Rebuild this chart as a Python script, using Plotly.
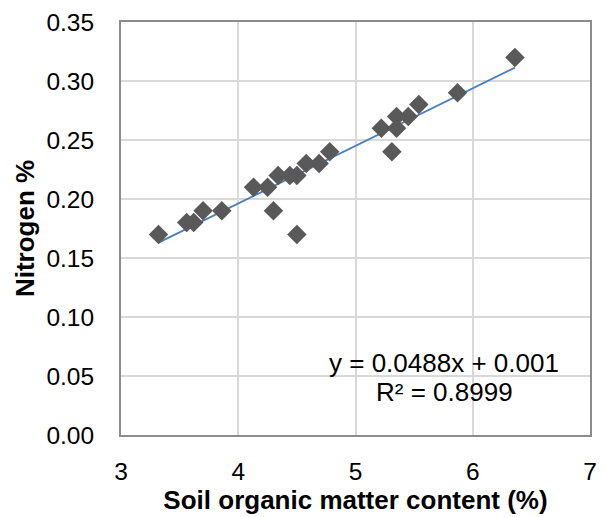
import plotly.graph_objects as go

# Data
soil_om = [3.32, 3.56, 3.62, 3.70, 3.86, 4.13, 4.25, 4.30, 4.34, 4.44, 4.50, 4.50,
           4.58, 4.69, 4.78, 5.22, 5.31, 5.35, 5.35, 5.45, 5.54, 5.87, 6.36]
nitrogen = [0.17, 0.18, 0.18, 0.19, 0.19, 0.21, 0.21, 0.19, 0.22, 0.22, 0.22, 0.17,
            0.23, 0.23, 0.24, 0.26, 0.24, 0.26, 0.27, 0.27, 0.28, 0.29, 0.32]

slope = 0.0488
intercept = 0.001
r2 = 0.8999

x_ticks = [3, 4, 5, 6, 7]
y_ticks = [0.00, 0.05, 0.10, 0.15, 0.20, 0.25, 0.30, 0.35]

x_line = [min(soil_om), max(soil_om)]
y_line = [slope * v + intercept for v in x_line]

font_family = "Liberation Sans, Arial, sans-serif"

fig = go.Figure()
fig.add_trace(go.Scatter(
    x=x_line, y=y_line, mode="lines",
    line=dict(color="#4a7ebb", width=1.8),
    showlegend=False, hoverinfo="skip"))
fig.add_trace(go.Scatter(
    x=soil_om, y=nitrogen, mode="markers",
    marker=dict(symbol="diamond", size=15, color="#595959"),
    showlegend=False))

fig.add_annotation(
    x=5.755, y=0.061, xref="x", yref="y",
    text=f"y = {slope}x + {intercept}",
    showarrow=False, xanchor="center", yanchor="middle",
    font=dict(family=font_family, size=26, color="#000000"))
fig.add_annotation(
    x=5.755, y=0.0365, xref="x", yref="y",
    text=f"R² = {r2}",
    showarrow=False, xanchor="center", yanchor="middle",
    font=dict(family=font_family, size=26, color="#000000"))

fig.update_layout(
    width=606, height=517,
    margin=dict(l=113, r=24, t=14, b=90, autoexpand=False),
    paper_bgcolor="white", plot_bgcolor="white",
    font=dict(family=font_family, size=24, color="#000000"),
    xaxis=dict(
        range=[3, 7], tickvals=x_ticks, ticktext=[str(v) for v in x_ticks],
        showgrid=True, gridcolor="#d9d9d9", gridwidth=2,
        showline=True, linecolor="#8c8c8c", linewidth=2, mirror=True,
        zeroline=False, ticks="outside", ticklen=14, tickcolor="rgba(0,0,0,0)",
        automargin=False,
        title=dict(text="<b>Soil organic matter content (%)</b>",
                   font=dict(size=26), standoff=6),
        tickfont=dict(size=24.5)),
    yaxis=dict(
        range=[0, 0.35], tickvals=y_ticks,
        ticktext=[f"{v:.2f}" for v in y_ticks],
        showgrid=True, gridcolor="#d9d9d9", gridwidth=2,
        showline=True, linecolor="#8c8c8c", linewidth=2, mirror=True,
        zeroline=False, ticks="outside", ticklen=20, tickcolor="rgba(0,0,0,0)",
        automargin=False,
        title=dict(text="<b>Nitrogen %</b>", font=dict(size=26), standoff=4),
        tickfont=dict(size=24.5)),
)

fig.write_html("out.html")
